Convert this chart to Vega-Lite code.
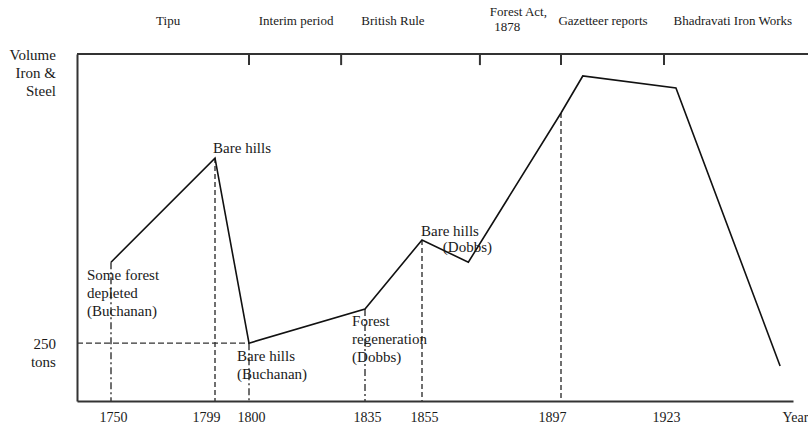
{
  "$schema": "https://vega.github.io/schema/vega-lite/v6.json",
  "width": 731,
  "height": 347,
  "autosize": "none",
  "padding": {"left": 77, "top": 54, "right": 0, "bottom": 23},
  "background": "white",
  "config": {
    "view": {"stroke": null}
  },
  "datasets": {
    "series": [
      {"year": 1750, "volume": 600},
      {"year": 1799, "volume": 1050},
      {"year": 1800, "volume": 250},
      {"year": 1835, "volume": 398},
      {"year": 1855, "volume": 696},
      {"year": 1869, "volume": 600},
      {"year": 1897, "volume": 1245},
      {"year": 1902.5, "volume": 1405},
      {"year": 1925.5, "volume": 1353},
      {"year": 1947.3, "volume": 151}
    ],
    "guides": [
      {"year": 1750, "volume": 600, "base": 0, "style": "dashdot"},
      {"year": 1799, "volume": 1050, "base": 0, "style": "dash"},
      {"year": 1800, "volume": 250, "base": 0, "style": "dashdot"},
      {"year": 1835, "volume": 398, "base": 0, "style": "dashdot"},
      {"year": 1855, "volume": 696, "base": 0, "style": "dash"},
      {"year": 1897, "volume": 1245, "base": 0, "style": "dash"}
    ],
    "frame": [
      {"year": 1734, "year2": 1960, "volume": 1500}
    ],
    "periodTicks": [
      {"year": 1800, "volume": 1500, "volume2": 1452},
      {"year": 1827.8, "volume": 1500, "volume2": 1452},
      {"year": 1872.5, "volume": 1500, "volume2": 1452},
      {"year": 1897, "volume": 1500, "volume2": 1452},
      {"year": 1923, "volume": 1500, "volume2": 1452}
    ],
    "periods": [
      {"label": "Tipu", "year": 1776.9, "volume": 1644},
      {"label": "Interim period", "year": 1814.2, "volume": 1644},
      {"label": "British Rule", "year": 1844.8, "volume": 1644},
      {"label": "Gazetteer reports", "year": 1907.6, "volume": 1644},
      {"label": "Bhadravati Iron Works", "year": 1937.4, "volume": 1644}
    ],
    "periodsLeft": [
      {"label": "Forest Act,", "year": 1875.5, "volume": 1682},
      {"label": "1878", "year": 1876.8, "volume": 1616}
    ],
    "notes": [
      {"label": "Bare hills", "year": 1798.1, "volume": 1126},
      {"label": "Some forest\ndepleted\n(Buchanan)", "year": 1738.7, "volume": 573},
      {"label": "Bare hills\n(Buchanan)", "year": 1799.65, "volume": 223},
      {"label": "Forest\nregeneration\n(Dobbs)", "year": 1831.1, "volume": 374},
      {"label": "Bare hills", "year": 1854.65, "volume": 767},
      {"label": "(Dobbs)", "year": 1861.3, "volume": 694}
    ],
    "yLabels": [
      {"label": "Volume\nIron &\nSteel", "year": 1724.1, "volume": 1524},
      {"label": "250\ntons", "year": 1724.1, "volume": 275}
    ]
  },
  "encoding": {
    "x": {
      "field": "year",
      "type": "quantitative",
      "scale": {
        "domain": [1734, 1750, 1799, 1800, 1835, 1855, 1897, 1923, 1950],
        "range": [0, 34, 138, 172, 288, 345, 484, 587, 716],
        "zero": false, "nice": false, "clamp": false
      },
      "axis": {
        "values": [1750, 1799, 1800, 1835, 1855, 1897, 1923, 1950],
        "labelExpr": "datum.value == 1950 ? 'Year' : datum.label",
        "format": "d",
        "title": null,
        "grid": false,
        "ticks": false,
        "domainColor": "#333",
        "domainWidth": 2,
        "labelFont": "Liberation Serif",
        "labelFontSize": 14,
        "labelColor": "#1a1a1a",
        "labelPadding": 9,
        "labelFlush": false,
        "labelOverlap": false,
        "labelOffset": {"condition": [{"test": "datum.value == 1799 || datum.value == 1897", "value": -9}], "value": 2}
      }
    },
    "y": {
      "field": "volume",
      "type": "quantitative",
      "scale": {"domain": [0, 1500], "zero": false, "nice": false},
      "axis": {
        "title": null, "grid": false, "ticks": false, "labels": false,
        "domainColor": "#333", "domainWidth": 2
      }
    }
  },
  "layer": [
    {
      "data": {"name": "guides"},
      "mark": {"type": "rule", "color": "#333", "strokeWidth": 1.4},
      "encoding": {
        "y2": {"field": "base"},
        "strokeDash": {
          "field": "style", "type": "nominal",
          "scale": {"domain": ["dash", "dashdot"], "range": [[5, 3], [7, 3, 2, 3]]},
          "legend": null
        }
      }
    },
    {
      "data": {"values": [{"year": 1734, "year2": 1800, "volume": 250}]},
      "mark": {"type": "rule", "color": "#333", "strokeWidth": 1.4, "strokeDash": [6, 3]},
      "encoding": {"x2": {"field": "year2"}}
    },
    {
      "data": {"name": "frame"},
      "mark": {"type": "rule", "color": "#333", "strokeWidth": 2},
      "encoding": {"x2": {"field": "year2"}}
    },
    {
      "data": {"name": "periodTicks"},
      "mark": {"type": "rule", "color": "#333", "strokeWidth": 2},
      "encoding": {"y2": {"field": "volume2"}}
    },
    {
      "data": {"name": "series"},
      "mark": {"type": "line", "color": "#111", "strokeWidth": 1.6}
    },
    {
      "data": {"name": "periods"},
      "mark": {"type": "text", "font": "Liberation Serif", "color": "#1a1a1a", "fontSize": 13, "align": "center", "baseline": "middle"},
      "encoding": {"text": {"field": "label"}}
    },
    {
      "data": {"name": "periodsLeft"},
      "mark": {"type": "text", "font": "Liberation Serif", "color": "#1a1a1a", "fontSize": 13, "align": "left", "baseline": "middle"},
      "encoding": {"text": {"field": "label"}}
    },
    {
      "data": {"name": "notes"},
      "mark": {"type": "text", "font": "Liberation Serif", "color": "#1a1a1a", "fontSize": 15, "align": "left", "baseline": "top", "lineHeight": 18, "lineBreak": "\n"},
      "encoding": {"text": {"field": "label"}}
    },
    {
      "data": {"name": "yLabels"},
      "mark": {"type": "text", "font": "Liberation Serif", "color": "#1a1a1a", "fontSize": 15, "align": "right", "baseline": "top", "lineHeight": 18, "lineBreak": "\n"},
      "encoding": {"text": {"field": "label"}}
    }
  ]
}
